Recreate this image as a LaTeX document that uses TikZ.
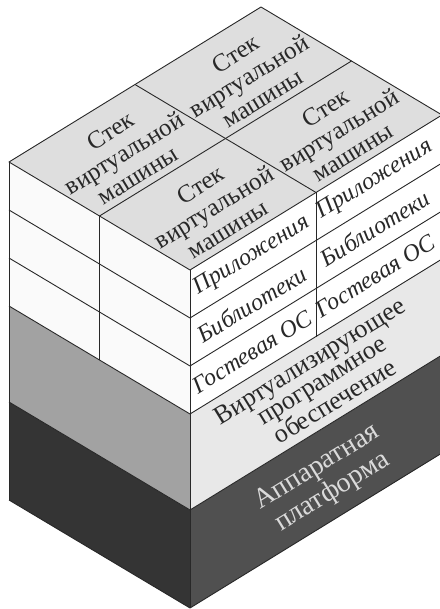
\documentclass[tikz,border=0pt]{standalone}
\usepackage{fontspec}
\setmainfont{Liberation Serif}
\usetikzlibrary{positioning}
\definecolor{stacktop}{RGB}{222,222,222}
\definecolor{stackside}{RGB}{250,250,250}
\definecolor{virtleft}{RGB}{162,162,162}
\definecolor{virtright}{RGB}{232,232,232}
\definecolor{hwleft}{RGB}{52,52,52}
\definecolor{hwright}{RGB}{80,80,80}
\definecolor{edgeline}{RGB}{40,40,40}
\definecolor{hwtext}{RGB}{218,218,218}

\begin{document}
\begin{tikzpicture}[x=1pt,y=-1pt,
  edge/.style={draw=edgeline,line width=0.9pt,line join=round},
  toptext/.style={align=center,inner sep=0pt,rotate=31.6,text=edgeline,
    font=\fontsize{25}{26}\selectfont},
  sidetext/.style={toptext,font=\fontsize{24}{26}\selectfont\itshape}]
  \fill[white] (0,0) rectangle (439,609);
  \useasboundingbox (0,0) rectangle (439,609);
  % layers: hardware, hypervisor, vm stacks
  \foreach \up/\down/\lc/\rc in {240/338/hwleft/hwright,144/240/virtleft/virtright,0/144/stackside/white} {
    \fill[\lc] (9,162+\up) -- (190,270+\up) -- (190,270+\down) -- (9,162+\down) -- cycle;
    \fill[\rc] (190,270+\up) -- (442,115+\up) -- (442,115+\down) -- (190,270+\down) -- cycle;
    \draw[edge] (9,162+\down) -- (190,270+\down) -- (442,115+\down);
  }
  \fill[stacktop] (9,162) -- (261,7) -- (442,115) -- (190,270) -- cycle;
  % grid of the vm stacks
  \foreach \d in {48,96} {
    \draw[edge] (9,162+\d) -- (190,270+\d) -- (442,115+\d);
  }
  \draw[edge] (99.5,216) -- (99.5,360);
  \draw[edge] (316,192.5) -- (316,336.5);
  \draw[edge] (99.5,216) -- (225.5,138.5) -- (351.5,61);
  \draw[edge] (135,84.5) -- (225.5,138.5) -- (316,192.5);
  % outline
  \draw[edge] (9,162) -- (261,7) -- (442,115) -- (190,270) -- cycle;
  \draw[edge] (9,162) -- (9,500);
  \draw[edge] (190,270) -- (190,608);
  \draw[edge] (442,115) -- (442,453);
  % labels
  \node[toptext] (stackL) at (124,153) {Стек\\виртуальной\\машины};
  \node[toptext] (stackB) at (249,76) {Стек\\виртуальной\\машины};
  \node[toptext] (stackR) at (339,130) {Стек\\виртуальной\\машины};
  \node[toptext] (stackF) at (214,207) {Стек\\виртуальной\\машины};
  \node[sidetext] (appsF) at (252,256) {Приложения};
  \node[sidetext] (libsF) at (252,304) {Библиотеки};
  \node[sidetext] (osF) at (252,352) {Гостевая ОС};
  \node[sidetext] (appsR) at (375,180) {Приложения};
  \node[sidetext] (libsR) at (375,228) {Библиотеки};
  \node[sidetext] (osR) at (375,276) {Гостевая ОС};
  \node[toptext,font=\fontsize{26}{22.5}\selectfont] (hypervisor) at (322,381) {Виртуализирующее\\программное\\обеспечение};
  \node[toptext,text=hwtext,font=\fontsize{28}{29}\selectfont] (hardware) at (325,480) {Аппаратная\\платформа};
\end{tikzpicture}
\end{document}
